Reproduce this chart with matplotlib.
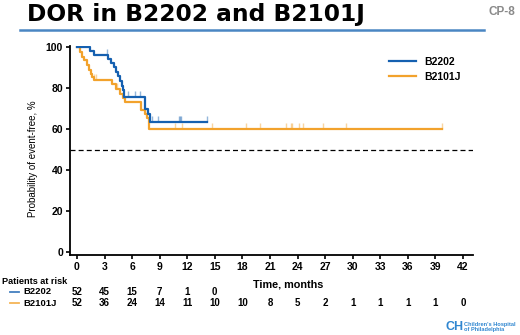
import numpy as np
import matplotlib
matplotlib.use("Agg")
import matplotlib.pyplot as plt
from matplotlib.lines import Line2D

plt.rcParams['font.family'] = ['Liberation Sans', 'DejaVu Sans']

# ---------------- data ----------------
title = "DOR in B2202 and B2101J"
series_names = ["B2202", "B2101J"]

b2202_t = [0, 1.4, 1.9, 3.4, 3.75, 4.0, 4.25, 4.5, 4.7, 4.85, 5.0, 5.15, 7.45, 7.7, 7.95]
b2202_s = [100, 98.1, 96.2, 94.3, 92.3, 90.2, 88.0, 85.8, 83.5, 81.2, 78.8, 75.5, 70.0, 67.5, 63.5]
b2202_end = 14.1
b2202_cens = [1.1, 1.3, 3.3, 5.5, 6.3, 6.85, 8.2, 8.85, 11.1, 11.2, 11.3, 14.1]

b2101j_t = [0, 0.35, 0.5, 0.75, 1.1, 1.3, 1.5, 1.67, 1.85, 3.85, 4.3, 4.7, 5.0, 5.25, 7.0, 7.4, 7.6, 7.85]
b2101j_s = [100, 97.6, 95.1, 93.5, 91.1, 88.6, 87.0, 85.4, 84.0, 81.8, 79.5, 77.2, 75.0, 73.0, 69.5, 67.5, 65.5, 60.0]
b2101j_end = 39.7
b2101j_cens = [0.15, 1.9, 2.1, 4.4, 7.4, 10.65, 11.4, 14.7, 18.4, 19.9, 22.8, 23.3,
               23.45, 24.2, 24.6, 26.8, 29.3, 39.7]

x_ticks = list(range(0, 43, 3))
y_ticks = [0, 20, 40, 60, 80, 100]
risk_b2202 = [52, 45, 15, 7, 1, 0]
risk_b2101j = [52, 36, 24, 14, 11, 10, 10, 8, 5, 2, 1, 1, 1, 1, 0]

blue = "#1560b0"
orange = "#f2a22c"

# ---------------- figure ----------------
W, H = 520, 335
fig = plt.figure(figsize=(W / 100, H / 100), dpi=100)

def fx(px):
    return px / W

def fy(py):
    return 1 - py / H

ax = fig.add_axes([fx(70), fy(255), fx(473) - fx(70), fy(46) - fy(255)])
ax.set_xlim(-0.76, 43.1)
ax.set_ylim(-1.46, 100.5)


def step_value(t, s, x):
    idx = np.searchsorted(np.asarray(t), x, side='right') - 1
    return np.asarray(s)[idx]


for t, s, end, cens, col in [(b2101j_t, b2101j_s, b2101j_end, b2101j_cens, orange),
                             (b2202_t, b2202_s, b2202_end, b2202_cens, blue)]:
    tt = list(t) + [end]
    ss = list(s) + [s[-1]]
    ax.step(tt, ss, where='post', color=col, lw=1.6, zorder=3)
    cy = step_value(t, s, np.asarray(cens))
    ax.vlines(cens, cy, cy + 3.0, color=col, lw=1.0, alpha=0.45, zorder=2)

ax.axhline(50, color='black', lw=0.9, ls=(0, (4, 2.5)), zorder=1)

for sp in ['top', 'right']:
    ax.spines[sp].set_visible(False)
for sp in ['left', 'bottom']:
    ax.spines[sp].set_linewidth(1.3)
ax.set_xticks(x_ticks)
ax.set_yticks(y_ticks)
ax.tick_params(axis='both', length=3, width=1.2, labelsize=7.5, pad=2)
for lab in ax.get_xticklabels() + ax.get_yticklabels():
    lab.set_fontweight('bold')
ax.set_ylabel("Probability of event-free, %", fontsize=7)
ax.yaxis.set_label_coords(-0.08, 0.46)
ax.set_xlabel("Time, months", fontsize=7.8, fontweight='bold')
ax.xaxis.set_label_coords(0.541, -0.118)

# legend
handles = [Line2D([], [], color=blue, lw=1.6), Line2D([], [], color=orange, lw=1.6)]
leg = fig.legend(handles, series_names, loc='upper left', bbox_to_anchor=(fx(389), fy(57)),
                 frameon=False, handlelength=2.6, handletextpad=0.8,
                 borderpad=0, borderaxespad=0, labelspacing=0.45,
                 prop={'weight': 'bold', 'size': 7.5})

# title & header
fig.text(fx(27), fy(14), title, fontsize=16.8, fontweight='bold', va='center', ha='left',
         family=['DejaVu Sans'])
fig.text(fx(515), fy(12), "CP-8", fontsize=8.5, fontweight='bold', color='#8a8a8a',
         va='center', ha='right')
fig.add_artist(Line2D([fx(20), fx(484)], [fy(29.5), fy(29.5)], color='#4a86c3', lw=1.8))

# risk table
fig.text(fx(2), fy(281), "Patients at risk", fontsize=6.6, fontweight='bold', va='center')
rows = [(series_names[0], risk_b2202, blue, 292), (series_names[1], risk_b2101j, orange, 303)]
for name, vals, col, py in rows:
    fig.add_artist(Line2D([fx(10), fx(19)], [fy(py), fy(py)], color=col, lw=1.3, alpha=0.8))
    fig.text(fx(23), fy(py), name, fontsize=6.8, fontweight='bold', va='center')
    for xv, v in zip(x_ticks, vals):
        xpix = ax.transData.transform((xv, 0))[0]
        fig.text(xpix / W, fy(py), str(v), fontsize=7, fontweight='bold', va='center', ha='center')

# logo
logo_col = '#2f86d0'
fig.text(fx(446), fy(327), "CH", fontsize=9, fontweight='bold', color=logo_col,
         va='center', ha='left')
fig.text(fx(464), fy(327), "Children's Hospital\nof Philadelphia", fontsize=4.1, fontweight='bold',
         color=logo_col, va='center', ha='left', linespacing=1.0)

fig.savefig("out.png", dpi=100)
